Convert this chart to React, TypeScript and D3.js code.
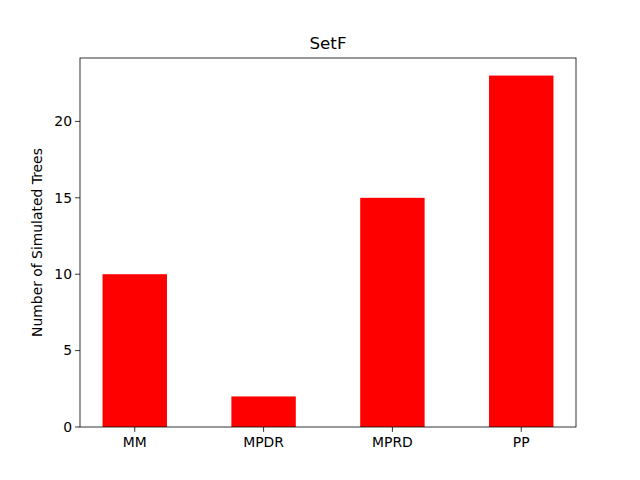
import React from 'react';
import * as d3 from 'd3';

const categories = ['MM', 'MPDR', 'MPRD', 'PP'];
const counts = [10, 2, 15, 23];
const yTicks = [0, 5, 10, 15, 20];

const W = 640;
const H = 480;
const margin = { top: 58, right: 64, bottom: 53, left: 80 };

export default function App() {
  const w = W - margin.left - margin.right;
  const h = H - margin.top - margin.bottom;
  const x = d3.scaleLinear().domain([-0.425, categories.length - 1 + 0.425]).range([0, w]);
  const y = d3.scaleLinear().domain([0, d3.max(counts)! * 1.05]).range([h, 0]);
  const bw = x(0.5) - x(0);
  const font = 'DejaVu Sans, sans-serif';

  return (
    <svg width={W} height={H} style={{ position: 'absolute', left: 0, top: 0, background: '#fff' }} fontFamily={font}>
      <g transform={`translate(${margin.left},${margin.top})`}>
        {counts.map((v, i) => (
          <rect key={categories[i]} x={x(i) - bw / 2} y={y(v)} width={bw} height={h - y(v)} fill="#ff0000" />
        ))}
        <rect x={0} y={0} width={w} height={h} fill="none" stroke="#000" strokeWidth={0.8} />
        {yTicks.map(t => (
          <g key={t} transform={`translate(0,${y(t)})`}>
            <line x1={-4.9} x2={0} stroke="#000" strokeWidth={0.8} />
            <text x={-8} dy="0.35em" textAnchor="end" fontSize={13.9}>{t}</text>
          </g>
        ))}
        {categories.map((c, i) => (
          <g key={c} transform={`translate(${x(i)},${h})`}>
            <line y1={0} y2={4.9} stroke="#000" strokeWidth={0.8} />
            <text y={20} textAnchor="middle" fontSize={13.9}>{c}</text>
          </g>
        ))}
        <text transform={`translate(-38,${h / 2}) rotate(-90)`} textAnchor="middle" fontSize={13.9}>
          Number of Simulated Trees
        </text>
        <text x={w / 2} y={-9} textAnchor="middle" fontSize={16.7}>SetF</text>
      </g>
    </svg>
  );
}
